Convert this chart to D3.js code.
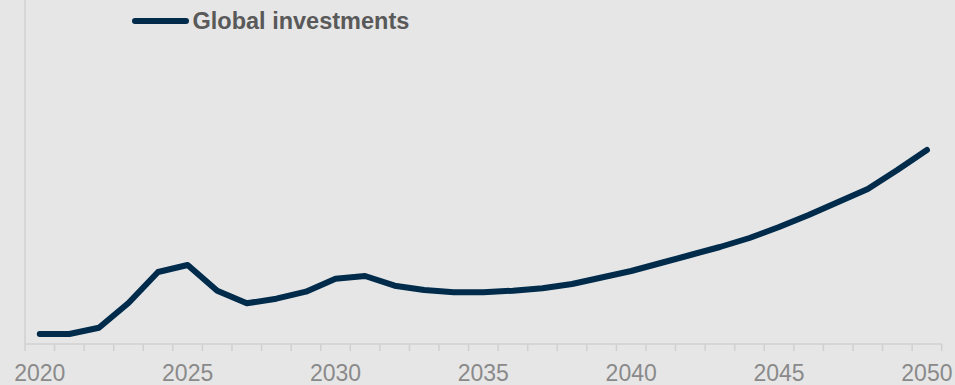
<!DOCTYPE html>
<html>
<head>
<meta charset="utf-8">
<script src="https://cdn.jsdelivr.net/npm/d3@7"></script>
<style>
  html, body { margin: 0; padding: 0; background: #e6e6e6; }
  svg { display: block; }
</style>
</head>
<body>
<svg id="chart" width="955" height="385"></svg>
<script>
// ---- Data ----
const years = d3.range(2020, 2051);
const investments = [
  10, 10, 16.3, 41, 72, 79, 53.3, 40.7, 45.3, 52.3,
  65.3, 68, 58.3, 54, 51.7, 51.7, 53.3, 55.7, 60, 66.5,
  73, 81, 89, 97, 106, 117, 129, 142, 155, 174, 194
];
const tickYears = [2020, 2025, 2030, 2035, 2040, 2045, 2050];
const seriesName = "Global investments";

(function () {
  // ---- Layout ----
  const svg = d3.select("#chart");
  const W = 955, H = 385;
  const mLeft = 25, mRight = 941.7, mBottom = 344, mTop = 0;

  svg.append("rect").attr("width", W).attr("height", H).attr("fill", "#e6e6e6");

  const x = d3.scaleBand().domain(years).range([mLeft, mRight]).padding(0);
  const y = d3.scaleLinear().domain([0, 344]).range([mBottom, mTop]);

  // y axis line
  svg.append("line")
    .attr("x1", mLeft).attr("x2", mLeft)
    .attr("y1", 0).attr("y2", mBottom)
    .attr("stroke", "#d0d0d0").attr("stroke-width", 1.5);

  // x axis
  const xAxisG = svg.append("g").attr("transform", `translate(0,${mBottom})`);
  xAxisG.append("line")
    .attr("x1", mLeft).attr("x2", mRight)
    .attr("y1", 0).attr("y2", 0)
    .attr("stroke", "#d0d0d0").attr("stroke-width", 1.5);
  const tickPos = years.map(d => x(d)).concat([mRight]);
  xAxisG.selectAll("line.tick").data(tickPos).enter().append("line")
    .attr("class", "tick")
    .attr("x1", d => d).attr("x2", d => d)
    .attr("y1", 0).attr("y2", 7)
    .attr("stroke", "#d0d0d0").attr("stroke-width", 1.5);

  svg.selectAll("text.xlab").data(tickYears).enter().append("text")
    .attr("class", "xlab")
    .attr("x", d => x(d) + x.bandwidth() / 2)
    .attr("y", 381)
    .attr("text-anchor", "middle")
    .attr("font-family", "Liberation Sans, Arial, sans-serif")
    .attr("font-size", 23)
    .attr("fill", "#8a8a8a")
    .text(d => d);

  // line
  const line = d3.line()
    .x((d, i) => x(years[i]) + x.bandwidth() / 2)
    .y(d => y(d));

  svg.append("path")
    .datum(investments)
    .attr("d", line)
    .attr("fill", "none")
    .attr("stroke", "#012b4b")
    .attr("stroke-width", 6)
    .attr("stroke-linejoin", "round")
    .attr("stroke-linecap", "round");

  // legend
  const lg = svg.append("g");
  lg.append("line")
    .attr("x1", 135).attr("x2", 186)
    .attr("y1", 21).attr("y2", 21)
    .attr("stroke", "#012b4b").attr("stroke-width", 6)
    .attr("stroke-linecap", "round");
  lg.append("text")
    .attr("x", 192.5).attr("y", 28.5)
    .attr("font-family", "Liberation Sans, Arial, sans-serif")
    .attr("font-weight", "bold")
    .attr("font-size", 23.5)
    .attr("fill", "#595959")
    .text(seriesName);
})();
</script>
</body>
</html>
